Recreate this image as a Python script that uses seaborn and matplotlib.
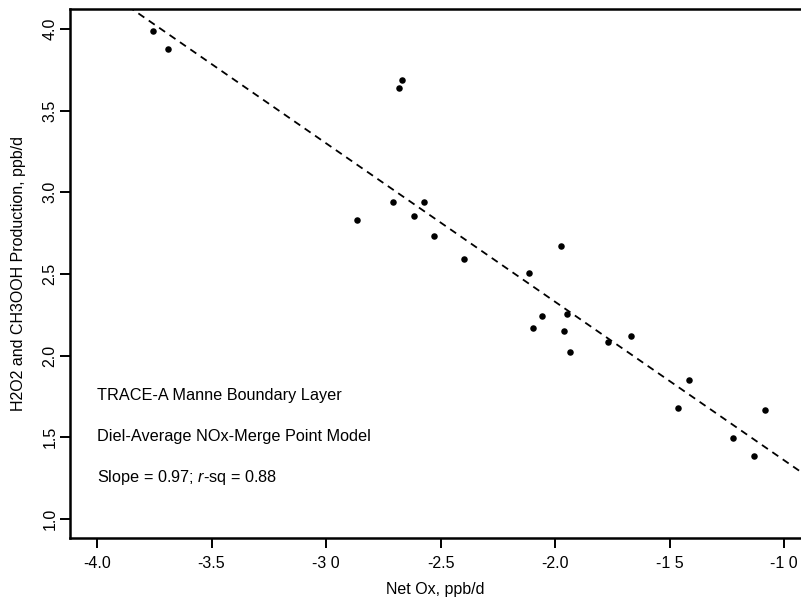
import numpy as np
import pandas as pd
import matplotlib
matplotlib.use("Agg")
import matplotlib.pyplot as plt
import seaborn as sns

net_ox = [-3.755, -3.690, -2.668, -2.681, -2.865, -2.707, -2.572, -2.616, -2.528, -2.397,
          -1.974, -2.114, -2.057, -2.096, -1.948, -1.961, -1.934, -1.769, -1.668, -1.415,
          -1.463, -1.083, -1.223, -1.131]
production = [3.988, 3.877, 3.688, 3.639, 2.829, 2.939, 2.939, 2.853, 2.731, 2.590,
              2.670, 2.506, 2.245, 2.171, 2.257, 2.153, 2.024, 2.086, 2.122, 1.853,
              1.682, 1.670, 1.498, 1.388]
fit_intercept = 0.39
fit_slope = -0.97

x_ticks = [-4.0, -3.5, -3.0, -2.5, -2.0, -1.5, -1.0]
x_tick_labels = ["-4.0", "-3.5", "-3 0", "-2.5", "-2.0", "-1 5", "-1 0"]
y_ticks = [1.0, 1.5, 2.0, 2.5, 3.0, 3.5, 4.0]
y_tick_labels = ["1.0", "1.5", "2.0", "2.5", "3.0", "3.5", "4.0"]

df = pd.DataFrame({"net_ox": net_ox, "prod": production})

sns.set_style("ticks")
plt.rcParams["font.family"] = ["Liberation Sans", "DejaVu Sans"]
plt.rcParams["mathtext.fontset"] = "custom"
plt.rcParams["mathtext.rm"] = "Liberation Sans"
plt.rcParams["mathtext.it"] = "Liberation Sans:italic"
plt.rcParams["text.color"] = "black"
plt.rcParams["axes.labelcolor"] = "black"

fig = plt.figure(figsize=(8.01, 5.97), dpi=100)
ax = fig.add_axes([0.0874, 0.0988, 0.9126, 0.8862])

ax.set_xlim(-4.118, -0.926)
ax.set_ylim(0.884, 4.122)

sns.scatterplot(data=df, x="net_ox", y="prod", ax=ax, color="black", s=22,
                edgecolor="black", linewidth=0, zorder=3)

xl = np.array(ax.get_xlim())
ax.plot(xl, fit_intercept + fit_slope * xl, color="black", linestyle=(0, (4, 3)),
        linewidth=1.3, zorder=2)
ax.set_xlim(-4.118, -0.926)

ax.set_xticks(x_ticks)
ax.set_xticklabels(x_tick_labels)
ax.set_yticks(y_ticks)
ax.set_yticklabels(y_tick_labels, rotation=90, va="center")

for side in ["left", "bottom", "top"]:
    ax.spines[side].set_visible(True)
    ax.spines[side].set_linewidth(1.8)
    ax.spines[side].set_color("black")
ax.spines["right"].set_visible(False)

ax.tick_params(axis="both", direction="out", length=7, width=1.4, labelsize=11.5,
               colors="black")
ax.tick_params(axis="x", pad=6)
ax.tick_params(axis="y", pad=2)
ax.tick_params(top=False, right=False)

ax.set_xlabel("Net Ox, ppb/d", fontsize=11.5, labelpad=8)
ax.set_ylabel("H2O2 and CH3OOH Production, ppb/d", fontsize=11.5, labelpad=12)

ax.text(-4.0, 1.754, "TRACE-A Manne Boundary Layer", fontsize=11.7, va="center", ha="left")
ax.text(-4.0, 1.503, "Diel-Average NOx-Merge Point Model", fontsize=11.7, va="center", ha="left")
ax.text(-4.0, 1.252, r"Slope = 0.97; $\mathit{r}$-sq = 0.88", fontsize=11.7, va="center", ha="left")

fig.savefig("out.png", dpi=100)
